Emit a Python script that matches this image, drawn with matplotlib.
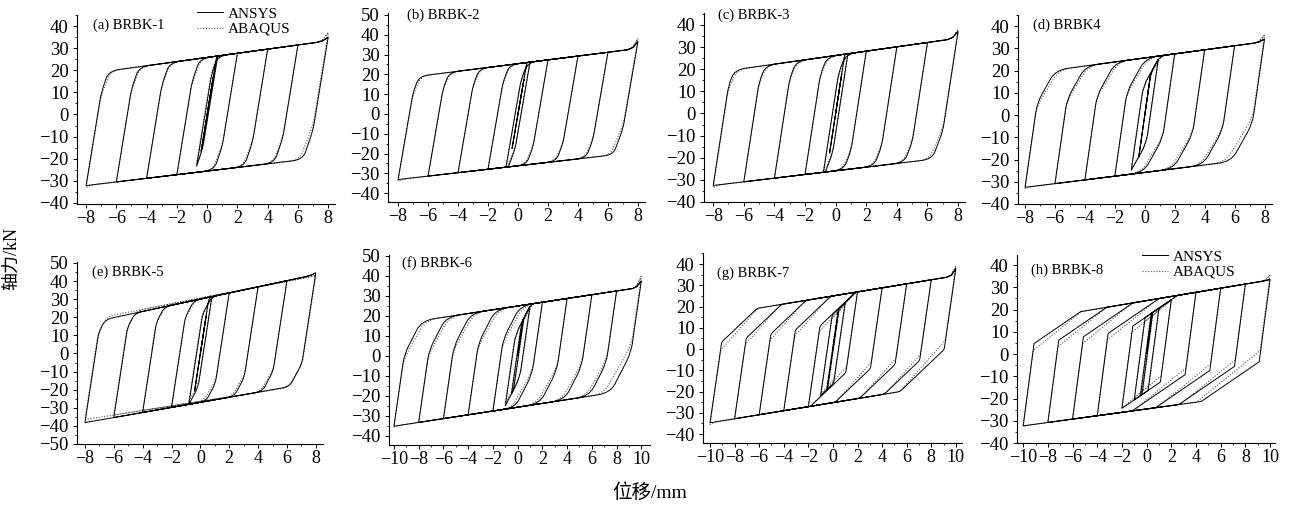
import math
import matplotlib.pyplot as plt
from matplotlib.lines import Line2D
from matplotlib.path import Path
from matplotlib.patches import PathPatch
from matplotlib.ticker import MultipleLocator

plt.rcParams['font.family'] = ['Liberation Serif', 'Noto Sans CJK SC']
plt.rcParams['axes.linewidth'] = 0.8

# panel names and loading amplitudes (mm)
titles = ['(a) BRBK-1', '(b) BRBK-2', '(c) BRBK-3', '(d) BRBK4',
          '(e) BRBK-5', '(f) BRBK-6', '(g) BRBK-7', '(h) BRBK-8']
amps = [[0.4, 0.7, 2, 4, 6, 8],
        [0.4, 0.8, 2, 4, 6, 8],
        [0.4, 0.8, 2, 4, 6, 8],
        [0.4, 0.9, 2, 4, 6, 8],
        [0.4, 0.8, 2, 4, 6, 8],
        [0.5, 1, 2, 4, 6, 8, 10],
        [0.5, 1, 2, 4, 6, 8, 10],
        [0.5, 1, 2, 4, 6, 8, 10]]

# ANSYS: hardening lines (force = a + b*disp)
up_a = [25.8, 25.4, 26.2, 25.7, 30.0, 25.0, 25.0, 24.0]
up_b = [0.94, 0.96, 0.98, 0.91, 1.70, 0.94, 0.95, 0.93]
lo_a = [-25.6, -26.2, -25.9, -25.8, -27.0, -25.6, -25.2, -24.7]
lo_b = [0.82, 0.87, 0.83, 0.84, 1.40, 0.95, 0.95, 0.76]
# reversal branches: elastic slope, elastic force range, second slope
k_el = [42, 44, 45, 47, 52, 43, 40, 42]
d_el = [42, 44, 45, 38, 50, 36, 38, 37]
k_sec = [20, 20, 18, 12, 15, 12, 5.5, 3.8]
tip_pos = [35.0, 36.5, 37.0, 34.2, 44.5, 37.6, 37.8, 33.5]
tip_neg = [-32.2, -33.2, -32.5, -32.5, -38.2, -35.1, -34.7, -32.3]
knee_round = [0.04, 0.035, 0.04, 0.05, 0.03, 0.05, 0.01, 0.0]

# ABAQUS
abq_up_a = [25.8, 25.4, 26.2, 25.7, 30.5, 25.0, 25.0, 24.0]
abq_up_b = [0.94, 0.96, 0.98, 0.91, 1.55, 0.94, 0.95, 0.93]
abq_lo_a = [-25.6, -26.2, -25.9, -25.8, -26.5, -25.6, -25.2, -24.7]
abq_lo_b = [0.82, 0.87, 0.83, 0.84, 1.25, 0.95, 0.95, 0.76]
abq_d_el = [41, 43, 44, 37, 48, 34, 35, 34]
abq_k_sec = [18, 18, 16, 11, 14, 11, 6.5, 4.5]
abq_tip_pos = [37.0, 38.0, 38.0, 36.0, 43.0, 40.0, 39.0, 35.5]
abq_tip_neg = [-33.0, -34.0, -33.5, -33.0, -36.5, -35.5, -35.5, -32.5]

y_ranges = [(-40, 40), (-40, 50), (-40, 40), (-40, 40),
            (-50, 50), (-40, 50), (-40, 40), (-40, 40)]

# axes boxes in pixels: left, right, top, bottom ; and limits
boxes = [(77, 335, 15, 204), (388, 645, 13, 202), (704, 965, 13, 202), (1018, 1272, 15, 204),
         (77, 323, 262, 444), (389, 650, 255, 445), (703, 962, 253, 443), (1017, 1275, 255, 443)]
xlims = [(-8.6, 8.45), (-8.67, 8.47), (-8.6, 8.45), (-8.47, 8.5),
         (-8.55, 8.5), (-10.4, 10.7), (-10.57, 10.5), (-10.5, 10.4)]
ylims = [(-40.5, 45), (-44.5, 51), (-40, 45.4), (-40, 45),
         (-50, 50.5), (-44.5, 50.5), (-44.2, 45.2), (-40, 44.5)]
title_pos = [(0.062, 0.947), (0.074, 0.989), (0.054, 0.989), (0.059, 0.947),
             (0.061, 0.945), (0.05, 0.958), (0.054, 0.895), (0.054, 0.92)]

W, H = 1290, 509


def branch(x0, y0, xt, ea, eb, k1, d1, k2, tip=None):
    # one half cycle: elastic, then second slope, then along the hardening line
    s = 1.0 if xt > x0 else -1.0
    env = lambda x: ea + eb * x
    pts = []
    xe = (ea - y0 + k1 * x0) / (k1 - eb)
    x1 = x0 + s * d1 / k1
    direct = s * (x1 - xe) > 0
    if direct:
        x1 = xe
    if s * (xt - x1) <= 0:
        pts.append((xt, y0 + k1 * (xt - x0), 0))
        return pts
    y1 = y0 + k1 * (x1 - x0)
    pts.append((x1, y1, 1))
    x2 = x1
    if not direct:
        x2 = (ea - y1 + k2 * x1) / (k2 - eb)
        if s * (xt - x2) <= 0:
            pts.append((xt, y1 + k2 * (xt - x1), 0))
            return pts
        pts.append((x2, env(x2), 1))
    if tip is None:
        pts.append((xt, env(xt), 0))
    else:
        w = 0.7
        xa = xt - s * w
        if s * (xa - x2) > 0:
            pts.append((xa, env(xa), 0))
        xb = xt - s * w / 2
        pts.append((xb, env(xb) + 0.22 * (tip - env(xt)), 0))
        pts.append((xt, tip, 0))
    return pts


def hysteresis(A, ua, ub, la, lb, k1, d1, k2, tp, tn):
    pts = [(0.0, 0.0, 0)]
    for j, a in enumerate(A):
        last = j == len(A) - 1
        x, y, _ = pts[-1]
        pts += branch(x, y, a, ua, ub, k1, d1 / 2 if j == 0 else d1, k2,
                      tp if last else None)
        x, y, _ = pts[-1]
        pts += branch(x, y, -a, la, lb, k1, d1, k2, tn if last else None)
    x, y, _ = pts[-1]
    pts += branch(x, y, A[-1], ua, ub, k1, d1, k2, tp)
    return pts


def rounded_path(pts, r, sx, sy):
    verts = [pts[0][:2]]
    codes = [Path.MOVETO]
    for k in range(1, len(pts)):
        x, y, c = pts[k]
        if c and r > 0 and k < len(pts) - 1:
            px, py, _ = pts[k - 1]
            nx, ny, _ = pts[k + 1]
            lin = math.hypot((x - px) / sx, (y - py) / sy)
            lout = math.hypot((nx - x) / sx, (ny - y) / sy)
            if lin > 0 and lout > 0:
                rr = min(r, 0.5 * lin, 0.5 * lout)
                a = (x + (px - x) * rr / lin, y + (py - y) * rr / lin)
                b = (x + (nx - x) * rr / lout, y + (ny - y) * rr / lout)
                verts += [a, (x, y), b]
                codes += [Path.LINETO, Path.CURVE3, Path.CURVE3]
                continue
        verts.append((x, y))
        codes.append(Path.LINETO)
    return Path(verts, codes)


fig = plt.figure(figsize=(W / 100, H / 100), dpi=100)

for i in range(8):
    l, r, t, b = boxes[i]
    ax = fig.add_axes([l / W, 1 - b / H, (r - l) / W, (b - t) / H])
    ax.set_xlim(*xlims[i])
    ax.set_ylim(*ylims[i])
    sx = xlims[i][1] - xlims[i][0]
    sy = ylims[i][1] - ylims[i][0]

    pa = hysteresis(amps[i], abq_up_a[i], abq_up_b[i], abq_lo_a[i], abq_lo_b[i],
                    k_el[i], abq_d_el[i], abq_k_sec[i], abq_tip_pos[i], abq_tip_neg[i])
    ax.add_patch(PathPatch(rounded_path(pa, knee_round[i], sx, sy), fill=False,
                           edgecolor='0.35', lw=0.8, ls=(0, (1, 1.5))))
    pn = hysteresis(amps[i], up_a[i], up_b[i], lo_a[i], lo_b[i],
                    k_el[i], d_el[i], k_sec[i], tip_pos[i], tip_neg[i])
    ax.add_patch(PathPatch(rounded_path(pn, knee_round[i], sx, sy), fill=False,
                           edgecolor='black', lw=0.7))

    for sp in ['top', 'right']:
        ax.spines[sp].set_visible(False)
    xm = amps[i][-1]
    ax.set_xticks(range(-xm, xm + 1, 2))
    ax.set_yticks(range(y_ranges[i][0], y_ranges[i][1] + 1, 10))
    ax.xaxis.set_minor_locator(MultipleLocator(1))
    ax.yaxis.set_minor_locator(MultipleLocator(5))
    ax.tick_params(which='major', direction='out', length=3, width=0.7)
    ax.tick_params(which='minor', direction='out', length=1.5, width=0.6)
    ax.tick_params(axis='y', labelsize=13.5, pad=3)
    ax.tick_params(axis='x', labelsize=13, pad=1.5)

    ax.text(title_pos[i][0], title_pos[i][1], titles[i], transform=ax.transAxes,
            fontsize=10.5, ha='left', va='center')

    if i in (0, 7):
        handles = [Line2D([], [], color='black', lw=0.7),
                   Line2D([], [], color='0.35', lw=0.8, ls=(0, (1, 1.5)))]
        anchor = (197 / W, 1 - 7 / H) if i == 0 else (1142 / W, 1 - 250 / H)
        ax.legend(handles, ['ANSYS', 'ABAQUS'], loc='upper left',
                  bbox_to_anchor=anchor, bbox_transform=fig.transFigure,
                  frameon=False, fontsize=11, handlelength=1.7, handletextpad=0.35,
                  labelspacing=0.1, borderpad=0, borderaxespad=0)

fig.text(12 / W, 1 - 258 / H, '轴力/kN', rotation=90, ha='center', va='center', fontsize=13)
fig.text(650 / W, 1 - 493 / H, '位移/mm', ha='center', va='center', fontsize=14)

fig.savefig('out.png', dpi=100)
